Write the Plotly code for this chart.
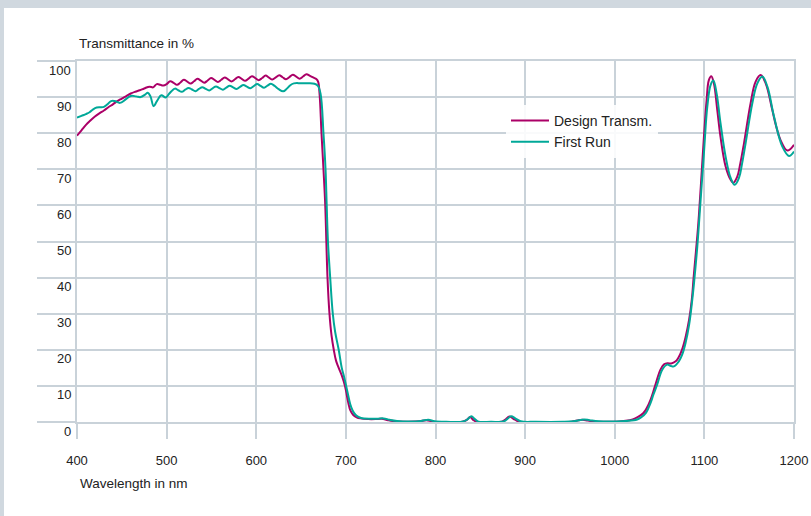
import plotly.graph_objects as go

# ---------------- data ----------------
wl_design = [400, 405, 410, 415, 420, 425, 430, 435, 440, 445, 450, 455, 460, 465, 470, 475, 481, 485, 489, 493,
             496.4, 500, 504, 507.8, 511.6, 515.4, 519.2, 523, 526.8, 530.6, 534.4, 538.2, 542, 545.8, 549.6, 553.4,
             557.2, 561, 564.8, 568.6, 572.4, 576.2, 580, 583.8, 587.6, 591.4, 595.2, 599, 602.8, 606.6, 610.4,
             614.2, 618, 621.8, 625.6, 629.4, 633.2, 637, 640.8, 644.6, 648.4, 652.2, 656, 660, 664, 667, 669,
             670.6, 672.8, 675, 677, 678.2, 679.5, 681.7, 684, 686.5, 689, 692, 696,
             699, 701, 703, 705, 708, 712, 716, 725, 733, 740, 747, 755, 770, 782, 790, 797, 810, 830, 835, 838.5,
             842, 846, 860, 874, 878, 882.5, 887, 893, 910, 940, 952, 958, 964, 970, 980, 1000, 1010, 1020, 1026,
             1032, 1036, 1040, 1045, 1051, 1055, 1059, 1063, 1068, 1071, 1075, 1079, 1083, 1086, 1088, 1090.5,
             1093, 1096, 1099.5, 1102.5, 1105, 1107.7, 1110.6, 1114.4, 1118, 1123.7, 1129.3, 1132.3, 1136.7,
             1140, 1144.2, 1151.6, 1157.2, 1162.8, 1168.4, 1175.8, 1180, 1185, 1192.6, 1200]
t_design = [79.3, 80.8, 82.3, 83.5, 84.6, 85.5, 86.3, 87.2, 88.0, 88.9, 89.6, 90.3, 91.0, 91.5, 91.9, 92.4, 92.9, 92.7, 93.6, 93.4,
            93.2, 93.6, 94.4, 93.95, 93.4, 94.05, 94.8, 94.3, 93.75, 94.4, 95.05, 94.55, 94.0, 94.6, 95.3, 94.75,
            94.2, 94.8, 95.45, 94.9, 94.35, 94.95, 95.6, 95.05, 94.5, 95.1, 95.8, 95.25, 94.7, 95.3, 95.95,
            95.4, 94.85, 95.45, 96.05, 95.5, 94.95, 95.55, 96.2, 95.65, 95.1, 95.7, 96.35, 95.9, 95.4, 95.0, 94.3,
            91.0, 80.0, 70.0, 60.0, 50.0, 40.0, 30.0, 24.0, 20.0, 17.0, 15.0, 12.5,
            10.0, 7.5, 5.0, 3.2, 2.0, 1.3, 1.0, 0.8, 0.8, 0.9, 0.5, 0.2, 0.1, 0.2, 0.5, 0.1, 0.0, 0.1, 0.6, 1.4,
            0.6, 0.05, 0.0, 0.1, 0.7, 1.5, 0.9, 0.1, 0.0, 0.0, 0.1, 0.4, 0.6, 0.4, 0.1, 0.1, 0.3, 0.7, 1.4,
            2.5, 4.0, 6.2, 10.0, 14.5, 16.0, 16.3, 16.2, 16.8, 17.8, 20.0, 23.5, 28.4, 34.0, 40.0, 47.0,
            54.2, 65.2, 79.0, 89.2, 94.7, 95.8, 93.8, 86.4, 79.0, 70.8, 67.1, 66.3, 68.0,
            71.5, 77.2, 88.3, 94.3, 96.1, 93.8, 86.4, 82.0, 78.1, 75.2, 76.8]

wl_run = [400, 405, 410, 414, 418, 422, 426, 430, 434, 438, 442, 448, 454, 460, 466, 471, 476, 479, 482, 485.5,
          489, 494, 499, 503, 505.4, 509.2, 513, 516.9, 520.7, 524.5, 528.3, 532.2, 536, 539.8, 543.6, 547.5,
          551.3, 555.1, 558.9, 562.8, 566.6, 570.4, 574.2, 578.1, 581.9, 585.7, 589.5, 593.4, 597.2, 601,
          604.8, 608.7, 612.5, 616.3, 620.5, 625, 630, 634, 638, 642, 650, 658, 665, 668.8, 671.7, 675, 677.3,
          678.6, 680, 682.5, 685.4, 688, 692, 695.4, 698, 700.3, 702.5, 704.8, 707.5, 710.7, 714, 717, 727,
          735, 742, 749, 757, 772, 784, 792, 799, 812, 831, 836, 840, 844, 848, 862, 876, 880, 884.5, 889,
          895, 912, 942, 954, 960, 966, 972, 982, 1002, 1012, 1025, 1030, 1035, 1040, 1043, 1047.4, 1053,
          1058.5, 1062, 1066, 1071.5, 1075, 1079, 1083, 1086.5, 1089, 1092.1, 1095.8, 1099.5, 1103.3, 1107,
          1110, 1113.6, 1118, 1123.7, 1129.3, 1133.8, 1138.6, 1142, 1146, 1153.5, 1159.1, 1164.7, 1170.3,
          1177.7, 1187, 1194.4, 1200]
t_run = [84.3, 84.8, 85.3, 85.8, 86.6, 87.1, 87.2, 87.3, 88.0, 88.9, 88.9, 88.4, 89.3, 90.3, 90.2, 90.0, 90.7, 91.2, 90.2, 87.5,
         88.8, 90.5, 89.9, 91.0, 91.6, 92.35, 91.9, 91.45, 92.05, 92.55, 92.1, 91.65, 92.25, 92.75, 92.3, 91.85,
         92.45, 92.95, 92.5, 92.05, 92.65, 93.15, 92.7, 92.25, 92.85, 93.35, 92.9, 92.45, 93.05, 93.6,
         93.1, 92.6, 93.15, 93.7, 93.1, 92.2, 91.6, 92.3, 93.3, 93.8, 93.85, 93.85, 93.7, 93.1, 91.0, 80.0, 70.0,
         60.0, 50.0, 40.0, 30.0, 25.0, 20.0, 15.0, 12.5, 10.0, 7.5, 5.0, 3.2, 2.0, 1.4, 1.1, 0.9,
         0.9, 1.0, 0.6, 0.3, 0.15, 0.3, 0.6, 0.2, 0.05, 0.15, 0.8, 1.6, 0.8, 0.1, 0.05, 0.15, 0.8, 1.6, 1.0,
         0.2, 0.05, 0.05, 0.2, 0.5, 0.7, 0.5, 0.2, 0.15, 0.3, 0.7, 1.4, 2.6, 5.3, 7.5, 10.4, 14.5,
         15.9, 15.6, 15.4, 16.8, 18.5, 21.9, 27.0, 33.9, 40.0, 48.6, 61.5, 74.5, 87.4, 93.4,
         94.6, 91.1, 82.8, 73.5, 67.6, 65.7, 67.6, 71.5, 77.2, 88.3, 93.8, 95.7, 92.9,
         84.6, 76.3, 73.7, 74.9]

x_ticks = [400, 500, 600, 700, 800, 900, 1000, 1100, 1200]
y_ticks = [0, 10, 20, 30, 40, 50, 60, 70, 80, 90, 100]
series_names = ["Design Transm.", "First Run"]

# ---------------- style ----------------
MAGENTA = "#ab0067"
TEAL = "#00a898"
GRID = "#c9d2d9"
FRAME = "#d0d8df"
FONT = "Liberation Sans, Arial, sans-serif"
TXT = "#222222"

W, H = 811, 516
ML, MR, MT, MB = 77, 17, 61, 94
PW, PH = W - ML - MR, H - MT - MB


def px_to_paper_x(px):
    return (px - ML) / PW


def px_to_paper_y(py):
    return (H - MB - py) / PH


fig = go.Figure()
fig.add_trace(go.Scatter(x=wl_design, y=t_design, mode="lines", name=series_names[0],
                         line=dict(color=MAGENTA, width=2, shape="spline", smoothing=1.1)))
fig.add_trace(go.Scatter(x=wl_run, y=t_run, mode="lines", name=series_names[1],
                         line=dict(color=TEAL, width=2, shape="spline", smoothing=1.1)))

annotations = []
for v in y_ticks:
    annotations.append(dict(x=0, xref="paper", xanchor="right", xshift=-4,
                            y=v, yref="y", yanchor="middle", yshift=-9,
                            text=str(v), showarrow=False,
                            font=dict(family=FONT, size=13, color=TXT)))
annotations.append(dict(x=0, xref="paper", xanchor="left", y=px_to_paper_y(43), yref="paper",
                        yanchor="middle", text="Transmittance in %", showarrow=False,
                        font=dict(family=FONT, size=13.5, color=TXT)))
annotations.append(dict(x=px_to_paper_x(78), xref="paper", xanchor="left", y=px_to_paper_y(483),
                        yref="paper", yanchor="middle", text="Wavelength in nm", showarrow=False,
                        font=dict(family=FONT, size=13.5, color=TXT)))

shapes = [
    dict(type="rect", xref="paper", yref="paper", layer="below",
         x0=px_to_paper_x(0), x1=px_to_paper_x(W), y0=px_to_paper_y(8), y1=px_to_paper_y(0),
         fillcolor=FRAME, line=dict(width=0)),
    dict(type="rect", xref="paper", yref="paper", layer="below",
         x0=px_to_paper_x(0), x1=px_to_paper_x(4), y0=px_to_paper_y(H), y1=px_to_paper_y(0),
         fillcolor=FRAME, line=dict(width=0)),
]

fig.update_layout(
    template="none",
    width=W, height=H,
    margin=dict(l=ML, r=MR, t=MT, b=MB, pad=0),
    paper_bgcolor="white", plot_bgcolor="white",
    font=dict(family=FONT, size=13, color=TXT),
    showlegend=True,
    legend=dict(x=px_to_paper_x(506), y=px_to_paper_y(105), xanchor="left", yanchor="top",
                bgcolor="rgba(255,255,255,0.88)", borderwidth=0, itemwidth=38,
                font=dict(family=FONT, size=14, color=TXT), tracegroupgap=0),
    annotations=annotations,
    shapes=shapes,
    xaxis=dict(range=[400, 1200], tickmode="array", tickvals=x_ticks,
               ticktext=[str(v) for v in x_ticks], automargin=False,
               showgrid=True, gridcolor=GRID, gridwidth=2, zeroline=False,
               showline=True, mirror=True, linecolor=GRID, linewidth=2,
               ticks="outside", ticklen=15, tickwidth=2, tickcolor=GRID,
               ticklabelstandoff=10,
               tickfont=dict(family=FONT, size=13, color=TXT), fixedrange=True),
    yaxis=dict(range=[0, 100], tickmode="array", tickvals=y_ticks, automargin=False,
               showgrid=True, gridcolor=GRID, gridwidth=2, zeroline=False,
               showline=True, mirror=True, linecolor=GRID, linewidth=2,
               ticks="outside", ticklen=38, tickwidth=2, tickcolor=GRID,
               showticklabels=False, fixedrange=True),
)

fig.write_html("out.html")
